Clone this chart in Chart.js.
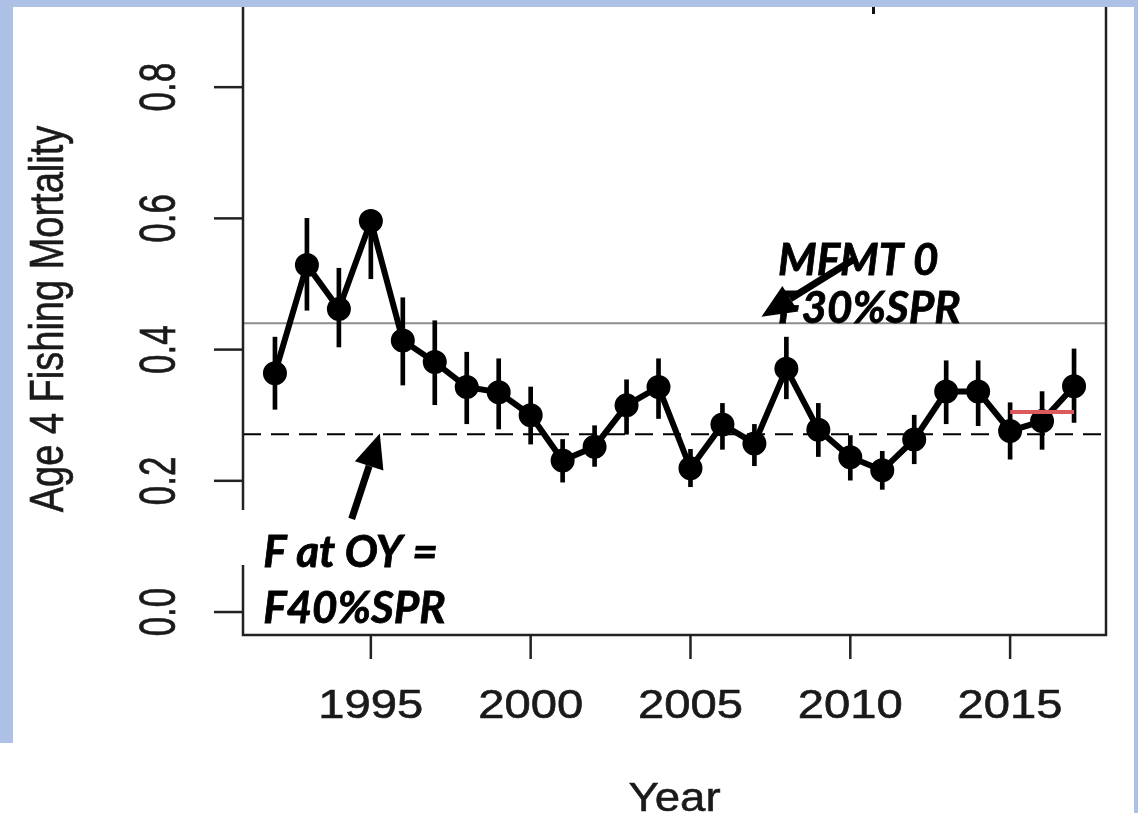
<!DOCTYPE html>
<html>
<head>
<meta charset="utf-8">
<script src="https://cdn.jsdelivr.net/npm/chart.js@4.4.1/dist/chart.umd.min.js"></script>
<style>
  body { margin: 0; background: #fff; }
  #wrap { position: absolute; left: 0; top: 0; width: 1138px; height: 813px; }
</style>
</head>
<body>
<div id="wrap"><canvas id="myChart"></canvas></div>
<script>
// values
const years = [1992, 1993, 1994, 1995, 1996, 1997, 1998, 1999, 2000, 2001, 2002, 2003, 2004,
               2005, 2006, 2007, 2008, 2009, 2010, 2011, 2012, 2013, 2014, 2015, 2016, 2017];
const fishingF = [0.364, 0.529, 0.462, 0.596, 0.414, 0.381, 0.343, 0.335, 0.300, 0.231, 0.252, 0.315, 0.343,
                  0.219, 0.286, 0.257, 0.371, 0.278, 0.236, 0.216, 0.263, 0.336, 0.336, 0.276, 0.291, 0.344];
const lowerCI = [0.309, 0.460, 0.404, 0.508, 0.346, 0.316, 0.287, 0.279, 0.256, 0.198, 0.222, 0.271, 0.295,
                 0.191, 0.248, 0.223, 0.325, 0.237, 0.201, 0.187, 0.226, 0.287, 0.284, 0.233, 0.248, 0.289];
const upperCI = [0.419, 0.600, 0.524, 0.596, 0.479, 0.444, 0.396, 0.386, 0.343, 0.263, 0.284, 0.354, 0.386,
                 0.248, 0.318, 0.286, 0.419, 0.318, 0.269, 0.245, 0.300, 0.383, 0.383, 0.319, 0.336, 0.401];
const mfmt = 0.44;          // grey solid line
const fAtOY = 0.271;        // dashed line
const redYears = [2015, 2017];
const redValue = 0.305;
const xTicks = [1995, 2000, 2005, 2010, 2015];
const yTicks = [0.0, 0.2, 0.4, 0.6, 0.8];
const xRange = [1991, 2018];
const yRange = [-0.035, 0.91];

const blue = "#adc0e6";
const ink = "#1a1a1a";

function hline(v, x0, x1) {
    return [{ x: x0, y: v }, { x: x1, y: v }];
}

// draw an arrow between two points (pixels)
function arrow(ctx, x0, y0, x1, y1) {
    const ang = Math.atan2(y1 - y0, x1 - x0);
    const headLen = 34, headHalf = 15;
    const bx = x1 - headLen * Math.cos(ang), by = y1 - headLen * Math.sin(ang);
    ctx.strokeStyle = "#000";
    ctx.lineWidth = 7;
    ctx.beginPath();
    ctx.moveTo(x0, y0);
    ctx.lineTo(bx, by);
    ctx.stroke();
    ctx.fillStyle = "#000";
    ctx.beginPath();
    ctx.moveTo(x1, y1);
    ctx.lineTo(bx + headHalf * Math.sin(ang), by - headHalf * Math.cos(ang));
    ctx.lineTo(bx - headHalf * Math.sin(ang), by + headHalf * Math.cos(ang));
    ctx.closePath();
    ctx.fill();
}

// text with a thin outline so it looks as heavy as the picture
function heavyText(ctx, s, x, y) {
    ctx.fillText(s, x, y);
    ctx.strokeText(s, x, y);
}

const decor = {
    id: "decor",
    afterDraw(chart) {
        const ctx = chart.ctx;
        const xs = chart.scales.x, ys = chart.scales.y;
        const a = chart.chartArea;
        ctx.save();

        // box (top edge hidden under the slide frame)
        ctx.strokeStyle = "#222";
        ctx.lineWidth = 2.5;
        ctx.beginPath();
        ctx.moveTo(a.left, 0);
        ctx.lineTo(a.left, a.bottom);
        ctx.lineTo(a.right, a.bottom);
        ctx.lineTo(a.right, 0);
        ctx.stroke();

        // ticks
        ctx.fillStyle = ink;
        ctx.font = "40px 'Liberation Sans', Arial, sans-serif";
        ctx.textAlign = "center";
        ctx.textBaseline = "alphabetic";
        xTicks.forEach(t => {
            const px = xs.getPixelForValue(t);
            ctx.strokeStyle = "#222";
            ctx.lineWidth = 2.5;
            ctx.beginPath();
            ctx.moveTo(px, a.bottom);
            ctx.lineTo(px, a.bottom + 24);
            ctx.stroke();
            ctx.save();
            ctx.translate(px, 718);
            ctx.scale(1.18, 1);
            ctx.strokeStyle = ink;
            ctx.lineWidth = 0.6;
            heavyText(ctx, String(t), 0, 0);
            ctx.restore();
        });
        ctx.font = "35px 'Liberation Sans', Arial, sans-serif";
        yTicks.forEach(t => {
            const py = ys.getPixelForValue(t);
            ctx.strokeStyle = "#222";
            ctx.lineWidth = 2.5;
            ctx.beginPath();
            ctx.moveTo(a.left - 29, py);
            ctx.lineTo(a.left, py);
            ctx.stroke();
            ctx.save();
            ctx.translate(175, py);
            ctx.rotate(-Math.PI / 2);
            ctx.scale(1, 1.45);
            ctx.strokeStyle = ink;
            ctx.lineWidth = 0.5;
            heavyText(ctx, t.toFixed(1), 0, 0);
            ctx.restore();
        });

        // axis titles
        ctx.strokeStyle = ink;
        ctx.lineWidth = 0.5;
        ctx.font = "38px 'Liberation Sans', Arial, sans-serif";
        ctx.save();
        ctx.translate(63, (a.top + a.bottom) / 2 - 6);
        ctx.rotate(-Math.PI / 2);
        ctx.scale(1, 1.28);
        heavyText(ctx, "Age 4 Fishing Mortality", 0, 0);
        ctx.restore();
        ctx.font = "40px 'Liberation Sans', Arial, sans-serif";
        ctx.save();
        ctx.translate((a.left + a.right) / 2, 811);
        ctx.scale(1.14, 1);
        heavyText(ctx, "Year", 0, 0);
        ctx.restore();

        // white text box edge covering the axis
        ctx.fillStyle = "#fff";
        ctx.fillRect(a.left - 4, 510, 7, 55);

        // annotations
        ctx.fillStyle = "#000";
        ctx.strokeStyle = "#000";
        ctx.lineWidth = 0.8;
        ctx.textAlign = "left";
        ctx.font = "italic bold 44px Lato, 'Open Sans', sans-serif";
        heavyText(ctx, "MFMT 0", xs.getPixelForValue(2007.74), ys.getPixelForValue(0.514));
        heavyText(ctx, "F30%SPR", xs.getPixelForValue(2007.74), ys.getPixelForValue(0.441));
        heavyText(ctx, "F at OY =", xs.getPixelForValue(1991.63), ys.getPixelForValue(0.069));
        heavyText(ctx, "F40%SPR", xs.getPixelForValue(1991.63), ys.getPixelForValue(-0.017));
        arrow(ctx, xs.getPixelForValue(2010.19), ys.getPixelForValue(0.540),
                   xs.getPixelForValue(2007.22), ys.getPixelForValue(0.450));
        arrow(ctx, xs.getPixelForValue(1994.4), ys.getPixelForValue(0.142),
                   xs.getPixelForValue(1995.28), ys.getPixelForValue(0.272));

        // slide frame
        ctx.fillStyle = blue;
        ctx.fillRect(0, 0, chart.width, 7);
        ctx.fillRect(0, 0, 13, 743);
        ctx.fillRect(1134, 0, 4, chart.height);
        ctx.fillStyle = "#111";
        ctx.fillRect(872, 7, 3, 7);
        ctx.restore();
    }
};

new Chart("myChart", {
    type: "line",
    data: {
        datasets: [
            {
                type: "bar",
                data: years.map((yr, i) => ({ x: yr, y: [lowerCI[i], upperCI[i]] })),
                backgroundColor: "#000",
                borderWidth: 0,
                barThickness: 4,
                order: 2
            },
            {
                data: years.map((yr, i) => ({ x: yr, y: fishingF[i] })),
                borderColor: "#000",
                borderWidth: 6,
                pointRadius: 9,
                pointBackgroundColor: "#000",
                pointBorderColor: "#000",
                tension: 0,
                order: 1
            },
            {
                data: hline(mfmt, xRange[0], xRange[1]),
                borderColor: "#8e8e8e",
                borderWidth: 2,
                pointRadius: 0,
                order: 3
            },
            {
                data: hline(fAtOY, xRange[0], xRange[1]),
                borderColor: "#000",
                borderWidth: 2,
                borderDash: [18, 10],
                pointRadius: 0,
                order: 3
            },
            {
                data: hline(redValue, redYears[0], redYears[1]),
                borderColor: "#dc5a5c",
                borderWidth: 4,
                pointRadius: 0,
                order: 0
            }
        ]
    },
    options: {
        responsive: true,
        maintainAspectRatio: false,
        animation: false,
        layout: { padding: { left: 243, right: 32, top: 7, bottom: 178 } },
        plugins: { legend: { display: false }, tooltip: { enabled: false } },
        scales: {
            x: { type: "linear", min: xRange[0], max: xRange[1], offset: false, display: false },
            y: { type: "linear", min: yRange[0], max: yRange[1], display: false }
        }
    },
    plugins: [decor]
});
</script>
</body>
</html>
